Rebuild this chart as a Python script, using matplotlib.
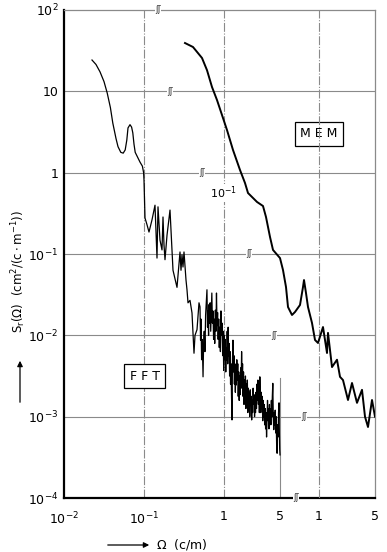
import numpy as np
import matplotlib
matplotlib.use("Agg")
import matplotlib.pyplot as plt
from matplotlib.ticker import FixedLocator, NullLocator

# FFT spectrum, log10 of frequency (c/m) and log10 of S_r
fft_logf = [-1.65, -1.60, -1.55, -1.50, -1.46, -1.42, -1.39, -1.35, -1.325, -1.29,
            -1.26, -1.235, -1.215, -1.20, -1.175, -1.155, -1.14, -1.125, -1.11, -1.08,
            -1.05, -1.02, -1.005, -1.0, -0.9875, -0.9625, -0.9375, -0.90, -0.8625, -0.8375,
            -0.825, -0.80, -0.775, -0.7625, -0.75, -0.7375, -0.7125, -0.675, -0.6625, -0.6375,
            -0.5875, -0.55, -0.5375, -0.525, -0.5125, -0.50, -0.475, -0.4625, -0.45, -0.425,
            -0.40, -0.3875, -0.375, -0.3625, -0.3375, -0.3125,
            -0.300, -0.293, -0.287, -0.280, -0.272, -0.262, -0.255, -0.247, -0.238, -0.230,
            -0.222, -0.213, -0.206, -0.200, -0.193, -0.186, -0.180, -0.173, -0.166, -0.160,
            -0.152, -0.145, -0.138, -0.130, -0.123, -0.116, -0.108, -0.101, -0.094, -0.087,
            -0.080, -0.073, -0.066, -0.059, -0.052, -0.045, -0.038, -0.031, -0.024, -0.017,
            -0.010, -0.004, 0.003, 0.010, 0.016, 0.022, 0.028, 0.034, 0.040, 0.046,
            0.052, 0.058, 0.064, 0.070, 0.076, 0.082, 0.088, 0.094, 0.100, 0.106,
            0.112, 0.118, 0.124, 0.130, 0.136, 0.142, 0.148, 0.154, 0.160, 0.166,
            0.172, 0.178, 0.184, 0.190, 0.196, 0.202, 0.208, 0.214, 0.220, 0.226,
            0.232, 0.238, 0.244, 0.250, 0.256, 0.262, 0.268, 0.274, 0.280, 0.286,
            0.292, 0.298, 0.304, 0.310, 0.316, 0.322, 0.328, 0.334, 0.340, 0.346,
            0.352, 0.358, 0.364, 0.370, 0.376, 0.382, 0.388, 0.394, 0.400, 0.406,
            0.412, 0.418, 0.424, 0.430, 0.436, 0.442, 0.448, 0.454, 0.460, 0.466,
            0.472, 0.478, 0.484, 0.490, 0.496, 0.502, 0.508, 0.514, 0.520, 0.526,
            0.532, 0.538, 0.544, 0.550, 0.556, 0.562, 0.568, 0.574, 0.580, 0.586,
            0.592, 0.598, 0.604, 0.610, 0.616, 0.622, 0.628, 0.634, 0.640, 0.646,
            0.652, 0.658, 0.664, 0.670, 0.676, 0.682, 0.688, 0.692, 0.696, 0.700]
fft_logS = [1.385, 1.33, 1.24, 1.12, 0.98, 0.80, 0.61, 0.42, 0.32, 0.25,
            0.24, 0.28, 0.40, 0.55, 0.59, 0.56, 0.49, 0.35, 0.25, 0.19,
            0.13, 0.08, 0.0, -0.09, -0.557, -0.64, -0.73, -0.58, -0.40, -1.05,
            -0.42, -0.83, -0.95, -0.545, -0.89, -1.07, -0.77, -0.46, -0.71, -1.2,
            -1.41, -0.975, -1.2, -1.01, -1.16, -0.975, -1.32, -1.44, -1.60, -1.57,
            -1.725, -1.97, -2.22, -2.00, -1.93, -1.60,
            -1.65, -2.06, -1.80, -2.30, -2.05, -2.51, -2.10, -1.95, -2.20, -1.75,
            -1.60, -1.44, -1.90, -1.70, -2.00, -1.62, -1.85, -1.60, -1.95, -1.75,
            -1.48, -1.85, -1.70, -2.05, -1.80, -2.10, -1.69, -1.95, -1.48, -1.88,
            -1.72, -2.05, -1.80, -2.15, -1.90, -2.20, -1.70, -2.00, -1.85, -2.25,
            -1.95, -2.43, -2.00, -2.30, -2.05, -2.45, -2.15, -2.30, -1.95, -2.35,
            -1.90, -2.25, -2.10, -2.50, -2.20, -2.60, -2.35, -2.75, -3.04, -2.30,
            -2.06, -2.45, -2.25, -2.60, -2.35, -2.70, -2.40, -2.61, -2.30, -2.55,
            -2.35, -2.75, -2.45, -2.80, -2.50, -2.73, -2.40, -2.65, -2.20, -2.55,
            -2.35, -2.75, -2.45, -2.85, -2.55, -2.75, -2.50, -2.90, -2.60, -2.80,
            -2.55, -2.95, -2.65, -2.92, -2.70, -3.00, -2.67, -2.85, -2.75, -3.04,
            -2.80, -2.95, -2.65, -2.85, -2.73, -3.00, -2.75, -2.95, -2.70, -2.90,
            -2.60, -2.80, -2.55, -2.85, -2.65, -2.95, -2.51, -2.80, -2.95, -2.70,
            -2.90, -2.75, -3.05, -2.80, -3.00, -2.85, -3.10, -2.90, -3.15, -2.95,
            -3.25, -3.00, -2.80, -3.05, -2.90, -3.15, -2.85, -3.05, -2.90, -3.10,
            -2.80, -3.00, -2.75, -2.59, -3.00, -3.16, -2.95, -3.10, -2.92, -3.20,
            -3.00, -3.35, -3.45, -3.10, -3.25, -2.95, -2.83, -3.20, -3.40, -3.47]

# MEM spectrum, on its own (shifted) frequency axis
mem_logf = [-1.675, -1.575, -1.4625, -1.40, -1.3375, -1.275, -1.2125, -1.15, -1.075, -0.9875,
            -0.925, -0.8875, -0.775, -0.70, -0.6625, -0.6125, -0.575, -0.4875, -0.45, -0.4125,
            -0.3875, -0.3375, -0.30, -0.2375, -0.20, -0.1875, -0.1625, -0.1375, -0.0875, -0.05,
            -0.0125, 0.05, 0.10, 0.1125, 0.1625, 0.225, 0.2625, 0.30, 0.3625, 0.4125,
            0.475, 0.5375, 0.575, 0.6125, 0.6625, 0.70]
mem_logS = [1.594, 1.545, 1.41, 1.26, 1.053, 0.893, 0.709, 0.524, 0.279, 0.033,
            -0.127, -0.25, -0.36, -0.41, -0.545, -0.79, -0.95, -1.05, -1.197, -1.406,
            -1.652, -1.75, -1.713, -1.627, -1.406, -1.32, -1.48, -1.652, -1.848, -2.057,
            -2.094, -1.898, -2.217, -1.97, -2.39, -2.30, -2.51, -2.55, -2.795, -2.586,
            -2.83, -2.67, -3.00, -3.127, -2.795, -3.00]

fft_f = 10.0 ** np.array(fft_logf)
fft_S = 10.0 ** np.array(fft_logS)
mem_f = 10.0 ** np.array(mem_logf)
mem_S = 10.0 ** np.array(mem_logS)

fft_ticks = [1e-2, 1e-1, 1, 5]
fft_ticklabels = [r"$10^{-2}$", r"$10^{-1}$", "1", "5"]
mem_ticks = [1, 5]
mem_ticklabels = ["1", "5"]
y_ticks = [1e-4, 1e-3, 1e-2, 1e-1, 1, 10, 1e2]
y_ticklabels = [r"$10^{-4}$", r"$10^{-3}$", r"$10^{-2}$", r"$10^{-1}$", "1", "10", r"$10^{2}$"]

# where the broken axis marks sit on each horizontal line (FFT x units)
break_y = [1e2, 10, 1, 1e-1, 1e-2, 1e-3, 1e-4]
break_x = [10**-0.825, 10**-0.675, 10**-0.275, 10**0.3125, 10**0.625, 10**1.0, 10**0.9]

mem_shift = 10**1.1875   # MEM axis offset relative to FFT axis
x_right = 10**1.8875

W, H = 387, 552
fig = plt.figure(figsize=(W / 100, H / 100), dpi=100)
ax = fig.add_axes([64 / W, 54 / H, 311 / W, 488 / H])
ax.set_xscale("log")
ax.set_yscale("log")
ax.set_xlim(1e-2, x_right)
ax.set_ylim(1e-4, 1e2)

grid_c = "#8a8a8a"
for y in y_ticks[1:-1]:
    ax.axhline(y, color=grid_c, lw=0.8, zorder=1)
ax.axvline(0.1, color=grid_c, lw=0.8, ls=(0, (8, 1.5, 1, 1.5)), zorder=1)
ax.axvline(1, color=grid_c, lw=0.8, ls=(0, (8, 1.5, 1, 1.5)), zorder=1)
ax.plot([5, 5], [1e-4, 3e-3], color=grid_c, lw=0.8, zorder=1)

ax.plot(fft_f, fft_S, color="black", lw=0.9, zorder=3)

for s in ["top", "right"]:
    ax.spines[s].set_color(grid_c)
    ax.spines[s].set_linewidth(0.9)
for s in ["left", "bottom"]:
    ax.spines[s].set_color("black")
    ax.spines[s].set_linewidth(1.6)

ax.xaxis.set_major_locator(FixedLocator(fft_ticks))
ax.xaxis.set_minor_locator(NullLocator())
ax.set_xticklabels(fft_ticklabels)
ax.yaxis.set_major_locator(FixedLocator(y_ticks))
ax.yaxis.set_minor_locator(NullLocator())
ax.set_yticklabels(y_ticklabels)
ax.tick_params(length=0, labelsize=9)
ax.tick_params(axis="x", pad=9)
ax.tick_params(axis="y", pad=4)

# MEM on its own frequency axis
ax2 = ax.twiny()
ax2.set_xscale("log")
ax2.set_xlim(1e-2 / mem_shift, x_right / mem_shift)
ax2.axvline(1, color=grid_c, lw=0.8, ls=(0, (8, 1.5, 1, 1.5)), zorder=1)
ax2.plot(mem_f, mem_S, color="black", lw=1.4, zorder=3)
ax2.xaxis.set_ticks_position("bottom")
ax2.xaxis.set_label_position("bottom")
ax2.xaxis.set_major_locator(FixedLocator(mem_ticks))
ax2.xaxis.set_minor_locator(NullLocator())
ax2.set_xticklabels(mem_ticklabels)
ax2.tick_params(length=0, labelsize=9, pad=9)
for s in ax2.spines.values():
    s.set_visible(False)

for bx, by in zip(break_x, break_y):
    ax.text(bx, by, "ʃʃ", fontsize=6, color="#333333", ha="center", va="center", zorder=4,
            bbox=dict(facecolor="white", edgecolor="none", pad=0.2))

ax.text(1.0, 10**-0.25, r"$10^{-1}$", fontsize=8, ha="center", va="center",
        bbox=dict(facecolor="white", edgecolor="none", pad=0.5), zorder=4)

ax.text(0.82, 0.746, "M E M", transform=ax.transAxes, fontsize=9, ha="center", va="center",
        bbox=dict(facecolor="white", edgecolor="black", lw=0.9, boxstyle="square,pad=0.45"), zorder=5)
ax.text(0.26, 0.25, "F F T", transform=ax.transAxes, fontsize=9, ha="center", va="center",
        bbox=dict(facecolor="white", edgecolor="black", lw=0.9, boxstyle="square,pad=0.45"), zorder=5)

# axis titles
fig.text(19 / W, 1 - 272 / H, r"$\mathregular{S_r(\Omega)\ \ (cm^2/(c\cdot m^{-1}))}$",
         rotation=90, ha="center", va="center", fontsize=8.5)
fig.add_artist(matplotlib.patches.FancyArrowPatch((20 / W, 1 - 405 / H), (20 / W, 1 - 358 / H),
               transform=fig.transFigure, arrowstyle="-|>", mutation_scale=8, lw=0.9, color="black"))
fig.add_artist(matplotlib.patches.FancyArrowPatch((105 / W, 1 - 545 / H), (152 / W, 1 - 545 / H),
               transform=fig.transFigure, arrowstyle="-|>", mutation_scale=8, lw=0.9, color="black"))
fig.text(156 / W, 1 - 545 / H, r"$\mathregular{\Omega}$  (c/m)", ha="left", va="center", fontsize=9)

fig.savefig("out.png", dpi=100)
